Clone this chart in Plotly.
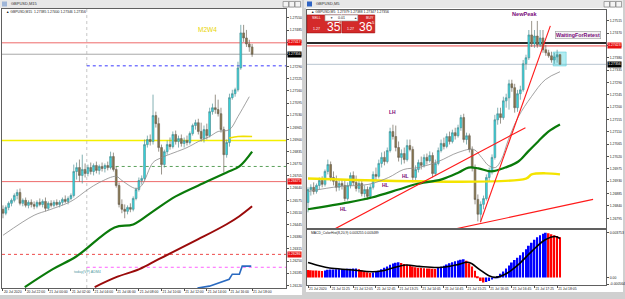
import plotly.graph_objects as go

W, H = 625, 299
def fx(p): return p / W
def fy(p): return 1 - p / H

FONT = "Liberation Sans"
SMALL = 3.4

# ---------------- LEFT CHART : GBPUSD,M15 ----------------
m15_open = [1.26527,1.26506,1.26537,1.26559,1.26575,1.26601,1.26617,1.26559,1.26575,1.26548,
            1.26564,1.26553,1.26543,1.26564,1.26553,1.26569,1.26532,1.26559,1.26548,1.26564,
            1.26553,1.26564,1.26580,1.26569,1.26585,1.26601,1.26729,1.26750,1.26708,1.26740,
            1.26719,1.26750,1.26729,1.26761,1.26735,1.26756,1.26745,1.26761,1.26750,1.26809,
            1.26740,1.26654,1.26553,1.26527,1.26516,1.26537,1.26527,1.26585,1.26633,1.26681,
            1.26692,1.26873,1.26900,1.26889,1.27028,1.26985,1.26857,1.26766,1.26835,1.26873,
            1.26862,1.26927,1.26889,1.26905,1.26879,1.26895,1.26884,1.26932,1.26975,1.26990,
            1.26943,1.26905,1.26953,1.26921,1.27049,1.27070,1.27060,1.27038,1.26953,1.26819,
            1.26884,1.27124,1.27145,1.27166,1.27283,1.27470,1.27443,1.27411,1.27395]
m15_high = [1.26548,1.26548,1.26569,1.26585,1.26612,1.26633,1.26638,1.26585,1.26590,1.26575,
            1.26580,1.26569,1.26575,1.26585,1.26580,1.26590,1.26569,1.26575,1.26575,1.26580,
            1.26575,1.26590,1.26601,1.26596,1.26612,1.26766,1.26777,1.26793,1.26819,1.26772,
            1.26766,1.26777,1.26772,1.26782,1.26766,1.26777,1.26772,1.26782,1.26835,1.26830,
            1.26756,1.26670,1.26580,1.26553,1.26548,1.26559,1.26596,1.26643,1.26697,1.26708,
            1.26900,1.26921,1.26927,1.27140,1.27049,1.27017,1.26873,1.26846,1.26895,1.26911,
            1.26943,1.26948,1.26921,1.26927,1.26911,1.26921,1.26943,1.26985,1.27006,1.27011,
            1.26990,1.26975,1.26985,1.27070,1.27092,1.27140,1.27113,1.27070,1.26969,1.26900,
            1.27145,1.27166,1.27177,1.27316,1.27513,1.27513,1.27486,1.27433,1.27411]
m15_low = [1.26479,1.26495,1.26522,1.26543,1.26564,1.26580,1.26548,1.26543,1.26537,1.26532,
           1.26537,1.26527,1.26532,1.26543,1.26537,1.26516,1.26522,1.26537,1.26537,1.26543,
           1.26537,1.26548,1.26559,1.26553,1.26575,1.26590,1.26686,1.26675,1.26665,1.26697,
           1.26703,1.26713,1.26708,1.26719,1.26713,1.26729,1.26724,1.26735,1.26740,1.26729,
           1.26643,1.26537,1.26506,1.26479,1.26500,1.26511,1.26516,1.26575,1.26622,1.26659,
           1.26681,1.26857,1.26868,1.26873,1.26964,1.26835,1.26713,1.26750,1.26819,1.26846,
           1.26852,1.26873,1.26857,1.26862,1.26857,1.26868,1.26873,1.26921,1.26953,1.26927,
           1.26889,1.26884,1.26900,1.26911,1.27033,1.27038,1.27023,1.26937,1.26724,1.26803,
           1.26862,1.27113,1.27129,1.27156,1.27273,1.27422,1.27395,1.27369,1.27342]
m15_close = [1.26506,1.26537,1.26559,1.26575,1.26601,1.26617,1.26559,1.26575,1.26548,1.26564,
             1.26553,1.26543,1.26564,1.26553,1.26569,1.26532,1.26559,1.26548,1.26564,1.26553,
             1.26564,1.26580,1.26569,1.26585,1.26601,1.26729,1.26750,1.26708,1.26740,1.26719,
             1.26750,1.26729,1.26761,1.26735,1.26756,1.26745,1.26761,1.26750,1.26809,1.26740,
             1.26654,1.26553,1.26527,1.26516,1.26537,1.26527,1.26585,1.26633,1.26681,1.26692,
             1.26873,1.26900,1.26889,1.27028,1.26985,1.26857,1.26766,1.26835,1.26873,1.26862,
             1.26927,1.26889,1.26905,1.26879,1.26895,1.26884,1.26932,1.26975,1.26990,1.26943,
             1.26905,1.26953,1.26921,1.27049,1.27070,1.27060,1.27038,1.26953,1.26819,1.26884,
             1.27124,1.27145,1.27166,1.27283,1.27470,1.27443,1.27411,1.27395,1.27356]

m15_ma_gray_x = [0, 11, 16, 24, 30, 34, 40, 42, 47, 49, 53, 56, 65, 69, 73, 76, 80, 83, 87]
m15_ma_gray_y = [1.26388, 1.26495, 1.26522, 1.26569, 1.26633, 1.26670, 1.26703, 1.26681, 1.26638, 1.26654,
                 1.26777, 1.26803, 1.26857, 1.26889, 1.26916, 1.26943, 1.26953, 1.27023, 1.27129]
m15_ma_green_x = [7.7, 17.6, 26, 39.4, 46, 53, 61, 72, 79, 83.5, 88]
m15_ma_green_y = [1.26111, 1.26207, 1.26276, 1.26430, 1.26446, 1.26516, 1.26596, 1.26675, 1.26724, 1.26756, 1.26835]
m15_ma_red_x = [32.4, 40, 48.2, 55, 69, 79, 83.5, 88]
m15_ma_red_y = [1.26111, 1.26164, 1.26207, 1.26260, 1.26367, 1.26447, 1.26490, 1.26543]
m15_ma_blue_x = [68.7, 72.9, 79.9, 81, 83.5, 84.5, 87.7]
m15_ma_blue_y = [1.26106, 1.26116, 1.26153, 1.26180, 1.26180, 1.26223, 1.26223]
m15_ma_yellow_x = [79.9, 83, 85, 88]
m15_ma_yellow_y = [1.26908, 1.26916, 1.26917, 1.26916]

m15_level_red_top = 1.27417
m15_level_bid = 1.27356
m15_level_blue_dot = 1.27294
m15_level_yellow = 1.26895
m15_level_green_dot = 1.26756
m15_level_red_mid = 1.26675
m15_level_red_dot = 1.26286
m15_level_magenta_dot = 1.26217
m15_vline = 29.6
m15_green_dot_start = 37.7

m15_price_ticks = [1.27550, 1.27485, 1.27420, 1.27355, 1.27290, 1.27225, 1.27160, 1.27095, 1.27030,
                   1.26965, 1.26900, 1.26835, 1.26770, 1.26705, 1.26640, 1.26575, 1.26510, 1.26445,
                   1.26380, 1.26315, 1.26250, 1.26185, 1.26120]
m15_time_ticks = [0, 8, 16, 24, 32, 40, 48, 56, 64, 72, 80, 88]
m15_time_labels = ["20 Jul 2020", "20 Jul 22:00", "21 Jul 00:00", "21 Jul 02:00", "21 Jul 04:00",
                   "21 Jul 06:00", "21 Jul 08:00", "21 Jul 10:00", "21 Jul 12:00", "21 Jul 14:00",
                   "21 Jul 16:00", "21 Jul 18:00"]

# ---------------- RIGHT CHART : GBPUSD,M5 ----------------
m5_open = [1.26853,1.26900,1.26908,1.26893,1.26915,1.26933,1.26919,1.26966,1.26991,1.26944,
           1.26930,1.26908,1.26922,1.26915,1.26867,1.26915,1.26951,1.26926,1.26904,1.26922,
           1.26885,1.26900,1.26875,1.26908,1.26955,1.26948,1.26995,1.27017,1.27002,1.27042,
           1.27111,1.27093,1.27053,1.27017,1.27031,1.27009,1.27060,1.27046,1.26944,1.26973,
           1.26998,1.26988,1.27017,1.27005,1.27024,1.26958,1.26995,1.27042,1.27068,1.27057,
           1.27093,1.27075,1.27107,1.27096,1.27125,1.27162,1.27082,1.27096,1.27046,1.26980,
           1.26864,1.26810,1.26846,1.26867,1.26944,1.26966,1.27017,1.27154,1.27176,1.27162,
           1.27223,1.27234,1.27285,1.27271,1.27198,1.27249,1.27263,1.27358,1.27380,1.27463,
           1.27430,1.27459,1.27427,1.27452,1.27409,1.27398,1.27387,1.27372,1.27383,1.27391]
m5_high = [1.26908,1.26919,1.26926,1.26922,1.26944,1.26948,1.26973,1.27009,1.27002,1.26966,
           1.26951,1.26937,1.26937,1.26937,1.26926,1.26962,1.26966,1.26951,1.26937,1.26933,
           1.26915,1.26911,1.26919,1.26966,1.26980,1.27009,1.27035,1.27039,1.27053,1.27125,
           1.27136,1.27133,1.27075,1.27046,1.27053,1.27082,1.27082,1.27057,1.26988,1.27009,
           1.27020,1.27028,1.27031,1.27039,1.27035,1.27009,1.27053,1.27082,1.27089,1.27104,
           1.27111,1.27118,1.27125,1.27136,1.27172,1.27176,1.27107,1.27104,1.27057,1.26991,
           1.26882,1.26857,1.26878,1.26955,1.26980,1.27028,1.27172,1.27198,1.27198,1.27238,
           1.27249,1.27300,1.27300,1.27285,1.27263,1.27278,1.27372,1.27391,1.27481,1.27514,
           1.27481,1.27514,1.27481,1.27481,1.27427,1.27409,1.27402,1.27398,1.27409,1.27394]
m5_low = [1.26817,1.26878,1.26882,1.26885,1.26900,1.26908,1.26911,1.26955,1.26930,1.26915,
          1.26893,1.26896,1.26900,1.26857,1.26860,1.26904,1.26915,1.26893,1.26889,1.26875,
          1.26871,1.26864,1.26867,1.26900,1.26933,1.26940,1.26980,1.26988,1.26995,1.27035,
          1.27082,1.27039,1.27002,1.26991,1.26995,1.27002,1.27039,1.26926,1.26933,1.26962,
          1.26973,1.26980,1.26991,1.26998,1.26944,1.26951,1.26988,1.27035,1.27046,1.27050,
          1.27064,1.27068,1.27082,1.27089,1.27114,1.27071,1.27064,1.27035,1.26966,1.26846,
          1.26784,1.26784,1.26828,1.26860,1.26930,1.26955,1.27009,1.27136,1.27140,1.27154,
          1.27198,1.27191,1.27256,1.27180,1.27183,1.27227,1.27256,1.27336,1.27372,1.27419,
          1.27416,1.27416,1.27419,1.27398,1.27387,1.27380,1.27362,1.27358,1.27362,1.27355]
m5_close = [1.26900,1.26908,1.26893,1.26915,1.26933,1.26919,1.26966,1.26991,1.26944,1.26930,
            1.26908,1.26922,1.26915,1.26867,1.26915,1.26951,1.26926,1.26904,1.26922,1.26885,
            1.26900,1.26875,1.26908,1.26955,1.26948,1.26995,1.27017,1.27002,1.27042,1.27111,
            1.27093,1.27053,1.27017,1.27031,1.27009,1.27060,1.27046,1.26944,1.26973,1.26998,
            1.26988,1.27017,1.27005,1.27024,1.26958,1.26995,1.27042,1.27068,1.27057,1.27093,
            1.27075,1.27107,1.27096,1.27125,1.27162,1.27082,1.27096,1.27046,1.26980,1.26864,
            1.26810,1.26846,1.26867,1.26944,1.26966,1.27017,1.27154,1.27176,1.27162,1.27223,
            1.27234,1.27285,1.27271,1.27198,1.27249,1.27263,1.27358,1.27380,1.27463,1.27430,
            1.27459,1.27427,1.27452,1.27409,1.27398,1.27387,1.27372,1.27383,1.27391,1.27356]

m5_ma_green_x = [0, 14.4, 22.5, 32, 38, 47.2, 53.2, 56.7, 60.2, 64.8, 69.7, 74.3, 77.8, 81.3, 84.9, 89]
m5_ma_green_y = [1.26828, 1.26853, 1.26871, 1.26900, 1.26919, 1.26937, 1.26962, 1.26980, 1.26977,
                 1.26966, 1.26980, 1.27002, 1.27039, 1.27075, 1.27111, 1.27137]
m5_ma_gray_x = [0, 11, 21.5, 28.5, 33.8, 39, 46, 53, 58.5, 61.3, 63.7, 66.2, 68.3, 70.8, 74.3, 78.9, 83.8, 89]
m5_ma_gray_y = [1.26893, 1.26911, 1.26919, 1.26944, 1.26973, 1.26980, 1.27002, 1.27035, 1.27046,
                1.27017, 1.26988, 1.26980, 1.27009, 1.27082, 1.27165, 1.27238, 1.27300, 1.27329]
m5_yellow_x = [0, 77, 79, 84, 89]
m5_yellow_y = [1.26940, 1.26940, 1.26955, 1.26959, 1.26955]

m5_trend1_x = [9.2, 76.8];  m5_trend1_y = [1.26755, 1.27125]
m5_trend2_x = [60.9, 85.6]; m5_trend2_y = [1.26781, 1.27496]
m5_trend3_x = [51.4, 100.7]; m5_trend3_y = [1.26755, 1.26864]

m5_level_black = 1.27434
m5_level_red = 1.27423
m5_level_bid = 1.27356
m5_retest_box_x = [86.6, 91.2]
m5_retest_box_y = [1.27350, 1.27401]

m5_price_ticks = [1.27515, 1.27470, 1.27425, 1.27380, 1.27335, 1.27290, 1.27245, 1.27200, 1.27155,
                  1.27110, 1.27065, 1.27020, 1.26975, 1.26930, 1.26885, 1.26840, 1.26795]
m5_time_ticks = [0, 8, 16, 24, 32, 40, 48, 56, 64, 72, 80, 88]
m5_time_labels = ["21 Jul 2020", "21 Jul 11:25", "21 Jul 12:05", "21 Jul 12:45", "21 Jul 13:25",
                  "21 Jul 14:05", "21 Jul 14:45", "21 Jul 15:25", "21 Jul 16:05", "21 Jul 16:45",
                  "21 Jul 17:25", "21 Jul 18:05"]

macd_hist = [0.00062, 0.00060, 0.00058, 0.00057, 0.00055, 0.00054, 0.00058, 0.00063, 0.00065, 0.00066,
             0.00068, 0.00069, 0.00070, 0.00071, 0.00072, 0.00073, 0.00074, 0.00075, 0.00068, 0.00060,
             0.00050, 0.00042, 0.00036, 0.00040, 0.00046, 0.00055, 0.00067, 0.00080, 0.00092, 0.00105,
             0.00115, 0.00122, 0.00126, 0.00120, 0.00112, 0.00105, 0.00098, 0.00090, 0.00084, 0.00080,
             0.00078, 0.00076, 0.00075, 0.00074, 0.00072, 0.00070, 0.00078, 0.00088, 0.00098, 0.00108,
             0.00118, 0.00126, 0.00134, 0.00141, 0.00148, 0.00152, 0.00140, 0.00118, 0.00090, 0.00055,
             0.00010, -0.00030, -0.00042, -0.00038, -0.00030, -0.00018, -0.00005, 0.00012, 0.00030, 0.00050,
             0.00075, 0.00100, 0.00125, 0.00145, 0.00165, 0.00185, 0.00210, 0.00235, 0.00265, 0.00290,
             0.00315, 0.00335, 0.00352, 0.00365, 0.00372, 0.00368, 0.00360, 0.00352, 0.00345, 0.00335]
macd_sig_x = [0, 4, 7.6, 14.7, 22.9, 26.4, 29.9, 34.6, 39.3, 46.4, 52.2, 56.9, 60.4, 63.9, 66.3,
              69.8, 74.5, 79.2, 83.8, 87.3, 89]
macd_sig_y = [0.00125, 0.00097, 0.00078, 0.00064, 0.00047, 0.00056, 0.00078, 0.00103, 0.00092, 0.00083,
              0.00103, 0.00125, 0.00069, 0.00014, 0.00000, 0.00028, 0.00111, 0.00222, 0.00314, 0.00342, 0.00325]
macd_ticks = [0.003753, 0.0, -0.000564]
macd_tick_labels = ["0.003753", "0.00", "-0.000564"]

# ---------------- styles ----------------
CYAN = "#2fdde6"
BROWN = "#8a7648"
WICK = "#7a7a7a"
FRAME = "#d0d0d0"

fig = go.Figure()

def candles(o, h, l, c, xa, ya):
    return go.Candlestick(x=list(range(len(o))), open=o, high=h, low=l, close=c,
                          increasing=dict(fillcolor=CYAN, line=dict(color="#4f8f94", width=0.7)),
                          decreasing=dict(fillcolor=BROWN, line=dict(color="#6f6658", width=0.7)),
                          whiskerwidth=0, xaxis=xa, yaxis=ya, hoverinfo="skip")

def line(x, y, color, width, xa, ya, dash="solid", shape="spline"):
    return go.Scatter(x=x, y=y, mode="lines", line=dict(color=color, width=width, dash=dash, shape=shape),
                      xaxis=xa, yaxis=ya, hoverinfo="skip")

# left chart traces
fig.add_trace(line(m15_ma_green_x, m15_ma_green_y, "#0a7a0a", 2.2, "x", "y"))
fig.add_trace(line(m15_ma_red_x, m15_ma_red_y, "#9a0a0a", 2.0, "x", "y"))
fig.add_trace(line(m15_ma_blue_x, m15_ma_blue_y, "#2a6ac0", 1.6, "x", "y", shape="linear"))
fig.add_trace(line(m15_ma_yellow_x, m15_ma_yellow_y, "#f0e000", 1.6, "x", "y"))
fig.add_trace(line(m15_ma_gray_x, m15_ma_gray_y, "#8a8a8a", 0.8, "x", "y"))
fig.add_trace(candles(m15_open, m15_high, m15_low, m15_close, "x", "y"))

# right chart traces
fig.add_trace(line(m5_yellow_x, m5_yellow_y, "#f4e400", 2.4, "x2", "y2"))
fig.add_trace(line(m5_ma_green_x, m5_ma_green_y, "#0a7a0a", 2.2, "x2", "y2"))
fig.add_trace(line(m5_ma_gray_x, m5_ma_gray_y, "#8a8a8a", 0.8, "x2", "y2"))
fig.add_trace(candles(m5_open, m5_high, m5_low, m5_close, "x2", "y2"))
for tx, ty in [(m5_trend1_x, m5_trend1_y), (m5_trend2_x, m5_trend2_y), (m5_trend3_x, m5_trend3_y)]:
    fig.add_trace(line(tx, ty, "#ff1a1a", 1.1, "x2", "y2", shape="linear"))

# MACD
hist_colors = ["#ff0000"] + ["#0000ff" if macd_hist[i] >= macd_hist[i - 1] else "#ff0000"
                             for i in range(1, len(macd_hist))]
fig.add_trace(go.Bar(x=list(range(len(macd_hist))), y=macd_hist, marker=dict(color=hist_colors, line=dict(width=0)),
                     width=0.62, xaxis="x3", yaxis="y3", hoverinfo="skip"))
fig.add_trace(line(macd_sig_x, macd_sig_y, "#000000", 1.6, "x3", "y3"))

shapes = []
# window frames
shapes += [
    dict(type="rect", xref="paper", yref="paper", x0=fx(0), x1=fx(303), y0=fy(296), y1=fy(8),
         fillcolor="white", line=dict(width=0), layer="below"),
    dict(type="rect", xref="paper", yref="paper", x0=fx(0), x1=fx(303), y0=fy(8), y1=fy(0),
         fillcolor="#e8e8e8", line=dict(width=0), layer="below"),
    dict(type="rect", xref="paper", yref="paper", x0=fx(307), x1=fx(625), y0=fy(293), y1=fy(8),
         fillcolor="white", line=dict(width=0), layer="below"),
    dict(type="rect", xref="paper", yref="paper", x0=fx(305), x1=fx(625), y0=fy(8), y1=fy(0),
         fillcolor="#e8e8e8", line=dict(width=0), layer="below"),
    dict(type="rect", xref="paper", yref="paper", x0=fx(308), x1=fx(313), y0=fy(6.5), y1=fy(1.5),
         fillcolor="#2f63c4", line=dict(width=0)),
    dict(type="rect", xref="paper", yref="paper", x0=fx(2), x1=fx(7), y0=fy(6.5), y1=fy(1.5),
         fillcolor="#9fb6d8", line=dict(width=0)),
]
for bx in (284, 290, 296, 606, 612, 618):
    shapes.append(dict(type="rect", xref="paper", yref="paper", x0=fx(bx), x1=fx(bx + 5.5), y0=fy(7), y1=fy(1.5),
                       fillcolor="#f4f4f4", line=dict(color="#707070", width=0.6)))

def hline(y, color, width, xa, ya, dash="solid", x0=None):
    if x0 is None:
        return dict(type="line", xref=xa + " domain", yref=ya, x0=0, x1=1, y0=y, y1=y,
                    line=dict(color=color, width=width, dash=dash), layer="below")
    return dict(type="line", xref=xa, yref=ya, x0=x0, x1=200, y0=y, y1=y,
                line=dict(color=color, width=width, dash=dash), layer="below")

shapes += [
    hline(m15_level_red_top, "#ee6a6a", 1, "x", "y"),
    hline(m15_level_bid, "#a8a8a8", 1, "x", "y"),
    hline(m15_level_blue_dot, "#3a3aff", 1, "x", "y", "dot", m15_vline),
    hline(m15_level_yellow, "#f4f000", 1.6, "x", "y"),
    hline(m15_level_green_dot, "#5aa05a", 1, "x", "y", "dot", m15_green_dot_start),
    hline(m15_level_red_mid, "#ee6a6a", 1, "x", "y"),
    hline(m15_level_red_dot, "#ee4a4a", 1, "x", "y", "dot"),
    hline(m15_level_magenta_dot, "#ff60ff", 1, "x", "y", "dot", m15_vline),
    dict(type="line", xref="x", yref="y domain", x0=m15_vline, x1=m15_vline, y0=0, y1=1,
         line=dict(color="#b8b8b8", width=0.8, dash="dot"), layer="below"),
    hline(m5_level_black, "#2a2a2a", 2, "x2", "y2"),
    hline(m5_level_red, "#ee4a4a", 1, "x2", "y2"),
    hline(m5_level_bid, "#b8c4d0", 1, "x2", "y2"),
    dict(type="rect", xref="x2", yref="y2", x0=m5_retest_box_x[0], x1=m5_retest_box_x[1],
         y0=m5_retest_box_y[0], y1=m5_retest_box_y[1], fillcolor="rgba(80,215,225,0.45)",
         line=dict(color="rgba(80,200,215,0.8)", width=0.6), layer="below"),
]

# trade panel
shapes += [
    dict(type="rect", xref="paper", yref="paper", x0=fx(308), x1=fx(342), y0=fy(33), y1=fy(15),
         fillcolor="#d42a2a", line=dict(color="#a01010", width=0.6)),
    dict(type="rect", xref="paper", yref="paper", x0=fx(343), x1=fx(376), y0=fy(33), y1=fy(15),
         fillcolor="#d42a2a", line=dict(color="#a01010", width=0.6)),
    dict(type="rect", xref="paper", yref="paper", x0=fx(326), x1=fx(359), y0=fy(21), y1=fy(15),
         fillcolor="white", line=dict(color="#909090", width=0.6)),
]

ann = []
def txt(x, y, s, size=SMALL, color="#202020", xanchor="left", xref="paper", yref="paper", **kw):
    d = dict(x=x, y=y, xref=xref, yref=yref, text=s, showarrow=False, xanchor=xanchor, yanchor="middle",
             font=dict(size=size, color=color, family=FONT))
    d.update(kw)
    return d

ann += [
    txt(fx(9), fy(4), "GBPUSD,M15", 4, "#303030"),
    txt(fx(315), fy(4), "GBPUSD,M5", 4, "#303030"),
    txt(fx(4), fy(12), "▲ GBPUSD,M15  1.27385 1.27400 1.27346 1.27356", SMALL),
    txt(fx(310), fy(12.5), "▲ GBPUSD,M5  1.27379 1.27388 1.27347 1.27356", SMALL),
    txt(72.2, 1.27486, "M2W4", 6.5, "#e8d400", "center", "x", "y"),
    txt(24.3, 1.26191, "today(VP) ADM4", 3.6, "#4f9aa0", "left", "x", "y"),
    txt(76.4, 1.27539, "<b>NewPeak</b>", 5.6, "#7a0a7a", "center", "x2", "y2"),
    txt(95.4, 1.27463, "<b>WaitingForRetest</b>", 5.3, "#7a0a7a", "center", "x2", "y2",
        bgcolor="#f4f4f4", bordercolor="#9a9a9a", borderwidth=0.6, borderpad=0.5),
    txt(30, 1.27184, "<b>LH</b>", 5, "#7a0a7a", "center", "x2", "y2"),
    txt(34.5, 1.26951, "<b>HL</b>", 5, "#7a0a7a", "center", "x2", "y2"),
    txt(27.5, 1.26915, "<b>HL</b>", 5, "#7a0a7a", "center", "x2", "y2"),
    txt(12.7, 1.26828, "<b>HL</b>", 5, "#7a0a7a", "center", "x2", "y2"),
    txt(fx(310), fy(234), "MACD_ColorHist(8,20,9) 0.003255 0.003489", SMALL),
    # trade panel
    txt(fx(311), fy(18), "SELL", 3.6, "white"),
    txt(fx(365), fy(18), "BUY", 3.6, "white"),
    txt(fx(329), fy(18), "▼", 3.2, "#404040"),
    txt(fx(342.5), fy(18), "0.01", 3.6, "#202020", "center"),
    txt(fx(353), fy(18), "▲", 3.2, "#404040"),
    txt(fx(312), fy(29), "1.27", 3.6, "white"),
    txt(fx(326), fy(27), "35", 12, "white"),
    txt(fx(338), fy(23), "5", 4, "white"),
    txt(fx(346), fy(29), "1.27", 3.6, "white"),
    txt(fx(358), fy(27), "36", 12, "white"),
    txt(fx(371), fy(23), "5", 4, "white"),
]

def price_box(val, ya, xpix, bg, fg="white"):
    return dict(x=fx(xpix), xref="paper", y=val, yref=ya, text=f"{val:.5f}", showarrow=False,
                xanchor="left", yanchor="middle", bgcolor=bg, borderpad=0.3,
                font=dict(size=SMALL, color=fg, family=FONT))

ann += [
    price_box(m15_level_red_top, "y", 287.5, "#e81010"),
    price_box(m15_level_bid, "y", 287.5, "#000000"),
    price_box(m15_level_red_mid, "y", 287.5, "#e81010"),
    price_box(m15_level_red_dot, "y", 287.5, "#e81010"),
    price_box(m5_level_red, "y2", 608.5, "#e81010"),
    price_box(m5_level_bid, "y2", 608.5, "#000000"),
]

axis_common = dict(showgrid=False, zeroline=False, showline=True, mirror=True, linecolor="#606060",
                   linewidth=1, ticks="outside", ticklen=2, tickcolor="#505050", tickangle=0,
                   tickfont=dict(size=SMALL, color="#202020", family=FONT), fixedrange=True)

fig.update_layout(
    width=W, height=H, autosize=False, margin=dict(l=0, r=0, t=0, b=0, pad=0),
    paper_bgcolor=FRAME, plot_bgcolor="white", showlegend=False, hovermode=False,
    boxgap=0.12,
    shapes=shapes, annotations=ann,
    xaxis=dict(domain=[fx(2), fx(287)], range=[-0.35, 100.0], anchor="y",
               tickvals=m15_time_ticks, ticktext=m15_time_labels, ticklabelposition="outside right",
               rangeslider=dict(visible=False), **axis_common),
    yaxis=dict(domain=[fy(289), fy(9)], range=[1.26106, 1.27598], anchor="x", side="right",
               tickvals=m15_price_ticks, ticktext=[f"{v:.5f}" for v in m15_price_ticks], **axis_common),
    xaxis2=dict(domain=[fx(308), fx(608)], range=[-0.35, 105.28], anchor="y2", showticklabels=False,
                rangeslider=dict(visible=False), **{k: v for k, v in axis_common.items() if k != "ticks"}, ticks=""),
    yaxis2=dict(domain=[fy(229), fy(10)], range=[1.26759, 1.27554], anchor="x2", side="right",
                tickvals=m5_price_ticks, ticktext=[f"{v:.5f}" for v in m5_price_ticks], **axis_common),
    xaxis3=dict(domain=[fx(308), fx(608)], range=[-0.35, 105.28], anchor="y3",
                tickvals=m5_time_ticks, ticktext=m5_time_labels, ticklabelposition="outside right",
                **axis_common),
    yaxis3=dict(domain=[fy(286), fy(231)], range=[-0.00064, 0.00394], anchor="x3", side="right",
                tickvals=macd_ticks, ticktext=macd_tick_labels, **axis_common),
)

fig.write_html("out.html")
